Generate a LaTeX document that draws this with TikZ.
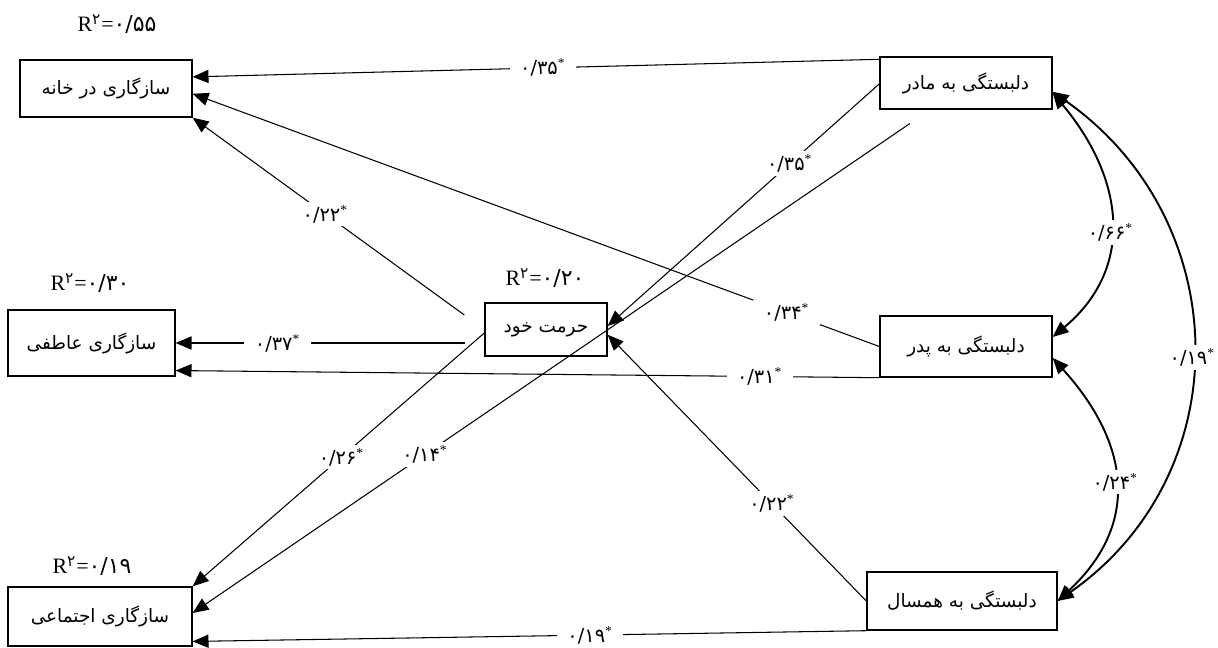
\documentclass[tikz,border=0pt]{standalone}
\usepackage{fontspec}
\setmainfont{Liberation Serif}
\newfontfamily\fafont[Script=Arabic]{DejaVu Sans}
\TeXXeTstate=1
\usetikzlibrary{arrows.meta}

\begin{document}
\begin{tikzpicture}[x=0.02cm,y=0.02cm,>={Triangle[length=9pt,width=7.5pt]},
  varbox/.style={draw,line width=0.8pt,inner sep=2pt,font=\fafont\fontsize{10.5}{12}\selectfont},
  coef/.style={fill=white,inner xsep=6pt,inner ysep=2pt,font=\fontsize{11}{13}\selectfont},
  rsq/.style={font=\fontsize{12.5}{14}\selectfont},
  pathline/.style={->,line width=0.6pt},
  corr/.style={<->,line width=1.1pt}]
  \useasboundingbox (0,0) rectangle (1218,647);

  % outcomes
  \node[varbox,minimum width=3.44cm,minimum height=1.14cm] (home) at (106,558.5) {\beginR سازگاری در خانه\endR};
  \node[varbox,minimum width=3.34cm,minimum height=1.32cm] (emo) at (91.5,304) {\beginR سازگاری عاطفی\endR};
  \node[varbox,minimum width=3.68cm,minimum height=1.18cm] (social) at (100,30.5) {\beginR سازگاری اجتماعی\endR};
  % mediator
  \node[varbox,minimum width=2.44cm,minimum height=1.06cm] (selfe) at (546,317.5) {\beginR حرمت خود\endR};
  % predictors
  \node[varbox,minimum width=3.44cm,minimum height=1.04cm] (mother) at (966,564) {\beginR دلبستگی به مادر\endR};
  \node[varbox,minimum width=3.44cm,minimum height=1.22cm] (father) at (966,300.5) {\beginR دلبستگی به پدر\endR};
  \node[varbox,minimum width=3.8cm,minimum height=1.16cm] (peer) at (962,46) {\beginR دلبستگی به همسال\endR};

  % explained variance
  \node[rsq] (r2home) at (117,623) {R\textsuperscript{\fafont ۲}=\fafont ۰/۵۵};
  \node[rsq] (r2emo) at (90,364) {R\textsuperscript{\fafont ۲}=\fafont ۰/۳۰};
  \node[rsq] (r2selfe) at (545,369) {R\textsuperscript{\fafont ۲}=\fafont ۰/۲۰};
  \node[rsq] (r2social) at (92,81) {R\textsuperscript{\fafont ۲}=\fafont ۰/۱۹};

  % direct paths
  \draw[pathline] ([yshift=-1.7pt]mother.north west) -- node[coef,pos=0.49] {{\fafont ۰/۳۵}\textsuperscript{*}} ([yshift=-10pt]home.north east);
  \draw[pathline] (father.west) -- node[coef,pos=0.135] {{\fafont ۰/۳۴}\textsuperscript{*}} ([yshift=-3pt]home.east);
  \draw[pathline,shorten <=14pt] (selfe.west) -- node[coef,pos=0.545] {{\fafont ۰/۲۲}\textsuperscript{*}} (home.south east);
  \draw[pathline,shorten <=11pt] (emo.east -| selfe.west) -- node[coef,pos=0.67] {{\fafont ۰/۳۷}\textsuperscript{*}} (emo.east);
  \draw[pathline] (father.south west) -- node[coef,pos=0.17] {{\fafont ۰/۳۱}\textsuperscript{*}} ([yshift=3.5pt]emo.south east);
  \draw[pathline] ([yshift=-0.5pt]mother.west) -- node[coef,pos=0.33] {{\fafont ۰/۳۵}\textsuperscript{*}} ([yshift=2pt]selfe.east);
  \draw[pathline,shorten <=14pt] ([xshift=-20.4pt]mother.south) -- node[coef,pos=0.685] {{\fafont ۰/۱۴}\textsuperscript{*}} ([yshift=2pt]social.east);
  \draw[pathline] ([yshift=-2pt]selfe.west) -- node[coef,pos=0.49] {{\fafont ۰/۲۶}\textsuperscript{*}} (social.north east);
  \draw[pathline] (peer.west) -- node[coef,pos=0.365] {{\fafont ۰/۲۲}\textsuperscript{*}} ([yshift=-3pt]selfe.east);
  \draw[pathline] (peer.south west) -- node[coef,pos=0.41] {{\fafont ۰/۱۹}\textsuperscript{*}} ([yshift=3pt]social.south east);

  % correlations
  \draw[corr] ([yshift=-5.7pt]mother.east) to[out=-50,in=40,looseness=1.15] node[coef,pos=0.55] {{\fafont ۰/۶۶}\textsuperscript{*}} ([yshift=5.4pt]father.east);
  \draw[corr] ([yshift=-6.5pt]father.east) to[out=-48,in=43,looseness=1.2] node[coef,pos=0.5] {{\fafont ۰/۲۴}\textsuperscript{*}} (peer.east);
  \draw[corr] ([yshift=-5pt]mother.east) to[out=-35,in=35,looseness=1.12] node[coef,pos=0.52] {{\fafont ۰/۱۹}\textsuperscript{*}} (peer.east);
\end{tikzpicture}
\end{document}
